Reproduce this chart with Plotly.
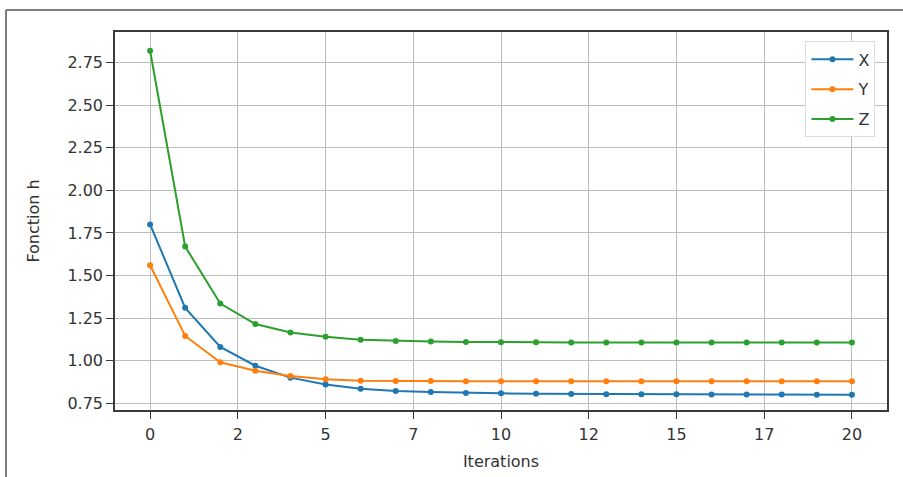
import plotly.graph_objects as go

iterations = list(range(21))
x_vals = [1.80, 1.31, 1.08, 0.97, 0.90, 0.86, 0.835, 0.822, 0.815, 0.81, 0.808, 0.805, 0.804, 0.803, 0.802, 0.802, 0.801, 0.801, 0.801, 0.80, 0.80]
y_vals = [1.56, 1.145, 0.99, 0.94, 0.91, 0.89, 0.882, 0.88, 0.88, 0.879, 0.879, 0.879, 0.879, 0.879, 0.879, 0.879, 0.879, 0.879, 0.879, 0.879, 0.879]
z_vals = [2.82, 1.67, 1.335, 1.215, 1.165, 1.14, 1.122, 1.115, 1.112, 1.11, 1.108, 1.108, 1.107, 1.107, 1.107, 1.107, 1.107, 1.107, 1.107, 1.107, 1.107]

series_names = ["X", "Y", "Z"]
series_colors = ["#1f77b4", "#ff7f0e", "#2ca02c"]

x_tickvals = [0, 2.5, 5, 7.5, 10, 12.5, 15, 17.5, 20]
x_ticktext = ["0", "2", "5", "7", "10", "12", "15", "17", "20"]
y_tickvals = [0.75, 1.00, 1.25, 1.50, 1.75, 2.00, 2.25, 2.50, 2.75]
y_ticktext = ["0.75", "1.00", "1.25", "1.50", "1.75", "2.00", "2.25", "2.50", "2.75"]

fig = go.Figure()
for name, vals, color in zip(series_names, [x_vals, y_vals, z_vals], series_colors):
    fig.add_trace(go.Scatter(
        x=iterations, y=vals, name=name, mode="lines+markers",
        line=dict(color=color, width=2),
        marker=dict(color=color, size=6),
        legendgroup=name,
    ))

FONT = "DejaVu Sans, sans-serif"
fig.update_layout(
    width=903, height=477,
    margin=dict(l=115, r=16, t=32, b=67),
    paper_bgcolor="white", plot_bgcolor="white",
    font=dict(family=FONT, size=16, color="#333333"),
    showlegend=True,
    legend=dict(
        x=0.985, y=0.975, xanchor="right", yanchor="top",
        bgcolor="white", bordercolor="#dcdcdc", borderwidth=1,
        font=dict(size=16, color="#333333"),
        tracegroupgap=6, itemwidth=42,
    ),
    xaxis=dict(
        range=[-1, 21], tickvals=x_tickvals, ticktext=x_ticktext,
        showgrid=True, gridcolor="#bdbdbd", gridwidth=1,
        showline=True, linecolor="#3a3a3a", linewidth=1.5, mirror=True,
        ticks="outside", ticklen=7, tickcolor="#3a3a3a",
        ticklabelstandoff=2, automargin=False,
        zeroline=False,
        title=dict(text="Iterations", font=dict(size=16), standoff=13),
    ),
    yaxis=dict(
        range=[0.71, 2.93], tickvals=y_tickvals, ticktext=y_ticktext,
        showgrid=True, gridcolor="#bdbdbd", gridwidth=1,
        showline=True, linecolor="#3a3a3a", linewidth=1.5, mirror=True,
        ticks="outside", ticklen=7, tickcolor="#3a3a3a",
        automargin=False,
        zeroline=False,
        title=dict(text="Fonction h", font=dict(size=16), standoff=24),
    ),
    shapes=[
        dict(type="line", xref="paper", yref="paper",
             x0=(6 - 115) / 772, x1=(6 - 115) / 772,
             y0=(410 - 10) / 378, y1=(410 - 477) / 378,
             line=dict(color="#555555", width=1.5)),
        dict(type="line", xref="paper", yref="paper",
             x0=(6 - 115) / 772, x1=(903 - 115) / 772,
             y0=(410 - 10) / 378, y1=(410 - 10) / 378,
             line=dict(color="#555555", width=1.5)),
    ],
)

fig.write_html("out.html", config={"displayModeBar": False},
               post_script="document.body.style.margin='0';")
